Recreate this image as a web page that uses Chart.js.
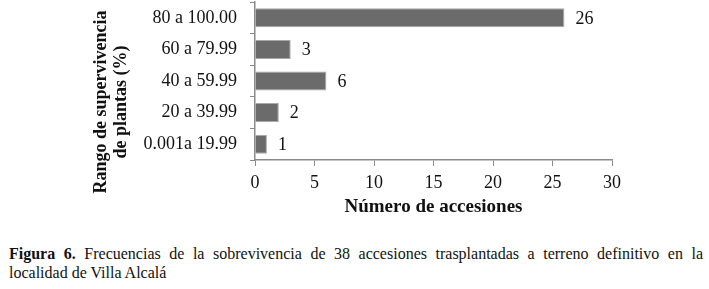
<!DOCTYPE html>
<html>
<head>
<meta charset="utf-8">
<script src="https://cdn.jsdelivr.net/npm/chart.js@4/dist/chart.umd.min.js"></script>
<style>
  html, body { margin: 0; padding: 0; background: #fff; }
  #wrap { position: relative; width: 709px; height: 289px; }
  #chart-box { position: absolute; left: 0; top: 0; width: 709px; height: 230px; }
  #caption {
    position: absolute; left: 9px; top: 244px; width: 694px;
    font-family: "Liberation Serif", "Times New Roman", serif;
    font-size: 16px; line-height: 19px; color: #111;
  }
  #caption .l1 { text-align: justify; text-align-last: justify; white-space: nowrap; }
  #caption b { font-weight: bold; }
</style>
</head>
<body>
<div id="wrap">
  <div id="chart-box"><canvas id="survival-chart" width="709" height="230"></canvas></div>
  <div id="caption">
    <div class="l1"><b>Figura 6.</b> Frecuencias de la sobrevivencia de 38 accesiones trasplantadas a terreno definitivo en la</div>
    <div>localidad de Villa Alcalá</div>
  </div>
</div>
<script>
const rangeLabels = ['80 a 100.00', '60 a 79.99', '40 a 59.99', '20 a 39.99', '0.001a 19.99'];
const accessionCounts = [26, 3, 6, 2, 1];
const xTicks = [0, 5, 10, 15, 20, 25, 30];

const serif = '"Liberation Serif", "Times New Roman", serif';
const axisGrey = '#8a8a8a';

// value labels just past the end of each bar
const barValueLabels = {
    id: 'barValueLabels',
    afterDatasetsDraw(chart) {
        const { ctx } = chart;
        const meta = chart.getDatasetMeta(0);
        ctx.save();
        ctx.font = '18px ' + serif;
        ctx.fillStyle = '#111';
        ctx.textAlign = 'left';
        ctx.textBaseline = 'middle';
        meta.data.forEach((bar, i) => {
            ctx.fillText(String(chart.data.datasets[0].data[i]), bar.x + 11, bar.y + 1);
        });
        ctx.restore();
    },
};

// two-line rotated y title, sitting below the plot centre like the original
const yTitle = {
    id: 'yTitle',
    afterDraw(chart) {
        const { ctx, chartArea } = chart;
        const cy = (chartArea.top + chartArea.bottom) / 2 + 21;
        ctx.save();
        ctx.font = 'bold 18px ' + serif;
        ctx.fillStyle = '#111';
        ctx.textAlign = 'center';
        ctx.textBaseline = 'middle';
        ctx.translate(101, cy);
        ctx.rotate(-Math.PI / 2);
        ctx.fillText('Rango de supervivencia', 0, 0);
        ctx.fillText('de plantas (%)', 0, 20);
        ctx.restore();
    },
};

new Chart(document.getElementById('survival-chart'), {
    type: 'bar',
    data: {
        labels: rangeLabels,
        datasets: [
            {
                data: accessionCounts,
                backgroundColor: '#6b6b6b',
                borderColor: '#a8a8a8',
                borderWidth: 1,
                barPercentage: 0.6,
                categoryPercentage: 1,
            },
        ],
    },
    options: {
        indexAxis: 'y',
        responsive: false,
        animation: false,
        layout: {
            padding: { top: 2, right: 97, bottom: 0, left: 0 },
        },
        plugins: {
            legend: { display: false },
            tooltip: { enabled: false },
        },
        scales: {
            x: {
                min: 0,
                max: 30,
                afterBuildTicks: (scale) => {
                    scale.ticks = xTicks.map((v) => ({ value: v }));
                },
                afterFit: (scale) => {
                    scale.height = 70;
                },
                ticks: {
                    color: '#111',
                    font: { family: serif, size: 18 },
                    padding: 6,
                },
                grid: {
                    drawOnChartArea: false,
                    drawTicks: true,
                    tickLength: 6,
                    color: axisGrey,
                },
                border: { color: axisGrey, width: 1.5 },
                title: {
                    display: true,
                    text: 'Número de accesiones',
                    color: '#111',
                    font: { family: serif, size: 19, weight: 'bold' },
                    padding: { top: 0, bottom: 12 },
                },
            },
            y: {
                afterFit: (scale) => {
                    scale.width = 255;
                    scale.paddingTop = 0;
                    scale.paddingBottom = 0;
                },
                ticks: {
                    color: '#111',
                    font: { family: serif, size: 18 },
                    padding: 13,
                },
                grid: {
                    offset: true,
                    drawOnChartArea: false,
                    drawTicks: true,
                    tickLength: 5,
                    color: axisGrey,
                },
                border: { color: axisGrey, width: 1.5 },
            },
        },
    },
    plugins: [barValueLabels, yTitle],
});
</script>
</body>
</html>
